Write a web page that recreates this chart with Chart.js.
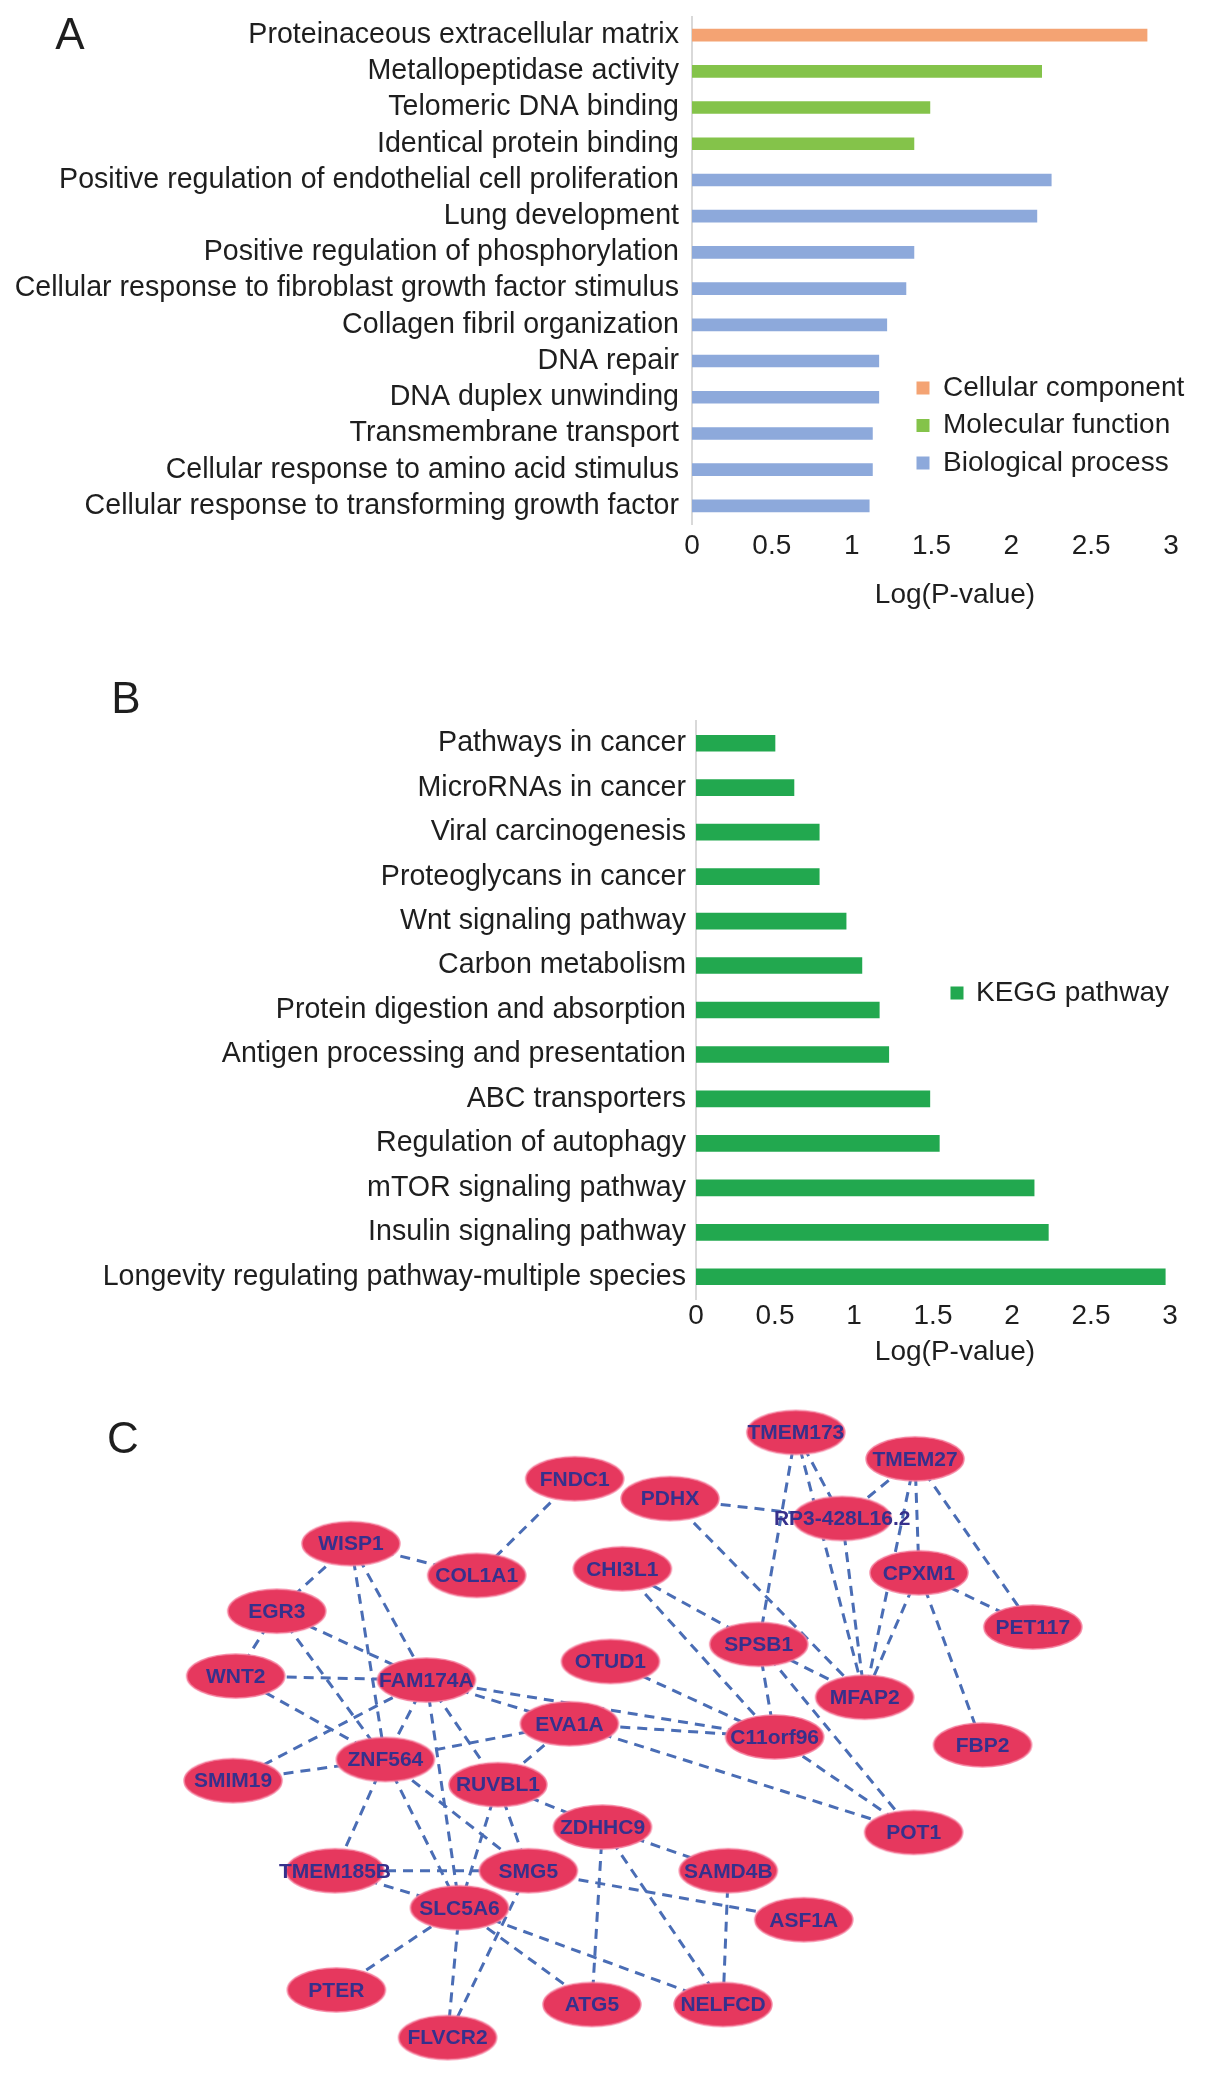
<!DOCTYPE html>
<html><head><meta charset="utf-8">
<script src="https://cdn.jsdelivr.net/npm/chart.js@4.4.1/dist/chart.umd.min.js"></script>
<style>
html,body{margin:0;padding:0;background:#fff;}
body{width:1205px;height:2076px;position:relative;overflow:hidden;}
.wrap{position:absolute;left:0;width:1205px;}
canvas{display:block;}
</style></head><body>
<div class="wrap" style="top:0;height:630px"><canvas id="ca"></canvas></div>
<div class="wrap" style="top:640px;height:745px"><canvas id="cb"></canvas></div>
<div class="wrap" style="top:1390px;height:686px"><canvas id="cc"></canvas></div>
<script>
// ---------------- DATA ----------------
const goTerms = [
  'Proteinaceous extracellular matrix','Metallopeptidase activity','Telomeric DNA binding',
  'Identical protein binding','Positive regulation of endothelial cell proliferation',
  'Lung development','Positive regulation of phosphorylation',
  'Cellular response to fibroblast growth factor stimulus','Collagen fibril organization',
  'DNA repair','DNA duplex unwinding','Transmembrane transport',
  'Cellular response to amino acid stimulus','Cellular response to transforming growth factor'
];
const cellularComponent = [2.85,null,null,null,null,null,null,null,null,null,null,null,null,null];
const molecularFunction = [null,2.19,1.49,1.39,null,null,null,null,null,null,null,null,null,null];
const biologicalProcess = [null,null,null,null,2.25,2.16,1.39,1.34,1.22,1.17,1.17,1.13,1.13,1.11];
const seriesNamesGO = ['Cellular component','Molecular function','Biological process'];

const keggPathways = [
  'Pathways in cancer','MicroRNAs in cancer','Viral carcinogenesis','Proteoglycans in cancer',
  'Wnt signaling pathway','Carbon metabolism','Protein digestion and absorption',
  'Antigen processing and presentation','ABC transporters','Regulation of autophagy',
  'mTOR signaling pathway','Insulin signaling pathway','Longevity regulating pathway-multiple species'
];
const keggValues = [0.50,0.62,0.78,0.78,0.95,1.05,1.16,1.22,1.48,1.54,2.14,2.23,2.97];
const keggSeriesName = 'KEGG pathway';

const xTicks = [0,0.5,1,1.5,2,2.5,3];
const xTickLabels = ['0','0.5','1','1.5','2','2.5','3'];
const axisTitle = 'Log(P-value)';

// network layout (layout units)
const nodeNames = ['TMEM173','TMEM27','FNDC1','PDHX','RP3-428L16.2','WISP1','COL1A1','CHI3L1','CPXM1',
  'PET117','EGR3','SPSB1','OTUD1','WNT2','FAM174A','MFAP2','EVA1A','C11orf96','FBP2','ZNF564',
  'SMIM19','RUVBL1','ZDHHC9','POT1','TMEM185B','SMG5','SAMD4B','SLC5A6','ASF1A','PTER','ATG5',
  'NELFCD','FLVCR2'];
const nodeX = [601,691,434,506,636,265,360,470,694,780,209,573,461,178,322,653,430,585,742,291,
  176,376,455,690,253,399,550,347,607,254,447,546,338];
const nodeY = [32,52,67,82,97,116,140,135,138,179,167,192,205,216,219,232,252,262,268,279,
  295,298,330,334,363,363,363,391,400,453,464,464,489];
const edges = [
  ['WISP1','COL1A1'],['FNDC1','COL1A1'],['WISP1','EGR3'],['WISP1','ZNF564'],['WISP1','FAM174A'],
  ['EGR3','WNT2'],['EGR3','FAM174A'],['EGR3','ZNF564'],['WNT2','FAM174A'],['WNT2','ZNF564'],
  ['SMIM19','ZNF564'],['SMIM19','FAM174A'],['FAM174A','EVA1A'],['FAM174A','C11orf96'],
  ['FAM174A','ZNF564'],['FAM174A','RUVBL1'],['FAM174A','SLC5A6'],['ZNF564','EVA1A'],
  ['ZNF564','TMEM185B'],['ZNF564','SLC5A6'],['ZNF564','SMG5'],['RUVBL1','EVA1A'],
  ['RUVBL1','ZDHHC9'],['RUVBL1','SLC5A6'],['RUVBL1','SMG5'],['SMG5','FLVCR2'],
  ['EVA1A','C11orf96'],['EVA1A','POT1'],['OTUD1','C11orf96'],['CHI3L1','SPSB1'],
  ['CHI3L1','C11orf96'],['PDHX','RP3-428L16.2'],['PDHX','MFAP2'],['TMEM173','RP3-428L16.2'],
  ['TMEM173','SPSB1'],['TMEM27','RP3-428L16.2'],['TMEM27','CPXM1'],['TMEM27','PET117'],
  ['TMEM27','MFAP2'],['RP3-428L16.2','MFAP2'],['TMEM173','MFAP2'],['CPXM1','MFAP2'],
  ['CPXM1','PET117'],['CPXM1','FBP2'],['SPSB1','MFAP2'],['SPSB1','C11orf96'],['SPSB1','POT1'],
  ['C11orf96','POT1'],['ZDHHC9','SAMD4B'],['ZDHHC9','ATG5'],['ZDHHC9','NELFCD'],
  ['SMG5','ASF1A'],['SAMD4B','NELFCD'],['TMEM185B','SMG5'],['TMEM185B','SLC5A6'],
  ['SLC5A6','PTER'],['SLC5A6','FLVCR2'],['SLC5A6','ATG5'],['SLC5A6','NELFCD']
];

// ---------------- STYLE ----------------
const FONT = '"Liberation Sans", Arial, Helvetica, sans-serif';
const TXT = '#1e1e1e';
Chart.defaults.font.family = FONT;
Chart.defaults.color = TXT;
Chart.defaults.animation = false;

const decor = {
  id: 'decor',
  afterDraw(chart, args, opts) {
    const ctx = chart.ctx;
    ctx.save();
    (opts.texts || []).forEach(t => {
      ctx.font = t.font; ctx.fillStyle = t.color || TXT;
      ctx.textAlign = t.align || 'center'; ctx.textBaseline = 'middle';
      ctx.fillText(t.text, t.x, t.y);
    });
    if (opts.legend) {
      const L = opts.legend;
      chart.data.datasets.forEach((ds, i) => {
        const y = L.y + i * L.gap;
        ctx.fillStyle = ds.backgroundColor;
        ctx.fillRect(L.x - L.box / 2, y - L.box / 2, L.box, L.box);
        ctx.fillStyle = TXT; ctx.font = L.font; ctx.textAlign = 'left'; ctx.textBaseline = 'middle';
        ctx.fillText(ds.label, L.textX, y);
      });
    }
    ctx.restore();
  }
};

function barOptions(cfg) {
  return {
    indexAxis: 'y',
    responsive: true, maintainAspectRatio: false, animation: false, events: [],
    layout: { padding: { top: cfg.top, right: cfg.right, left: 0, bottom: 0 } },
    scales: {
      x: {
        type: 'linear', min: 0, max: 3,
        afterBuildTicks: s => { s.ticks = xTicks.map(v => ({ value: v })); },
        afterFit: s => { s.height = cfg.xh; s.paddingLeft = 0; s.paddingRight = 0; },
        ticks: { font: { size: 28 }, color: TXT, padding: cfg.xpad, maxRotation: 0,
          callback: v => xTickLabels[xTicks.indexOf(v)] },
        grid: { display: false, drawTicks: false },
        border: { display: false }
      },
      y: {
        afterFit: s => { s.width = cfg.yw; s.paddingTop = 0; s.paddingBottom = 0; },
        ticks: { font: { size: 28.6 }, color: TXT, padding: cfg.ypad, autoSkip: false },
        grid: { display: false, drawTicks: false },
        border: { display: true, color: '#d9d9d9', width: 2 }
      }
    },
    plugins: {
      legend: { display: false }, tooltip: { enabled: false },
      decor: cfg.decor
    }
  };
}

// ---------------- PANEL A ----------------
new Chart(document.getElementById('ca'), {
  type: 'bar',
  data: {
    labels: goTerms,
    datasets: [
      { label: seriesNamesGO[0], data: cellularComponent, backgroundColor: '#F4A373', grouped: false, barThickness: 12 },
      { label: seriesNamesGO[1], data: molecularFunction, backgroundColor: '#84C34A', grouped: false, barThickness: 12 },
      { label: seriesNamesGO[2], data: biologicalProcess, backgroundColor: '#8DA9DB', grouped: false, barThickness: 12 }
    ]
  },
  options: barOptions({
    top: 17, right: 34, xh: 106, yw: 692, xpad: 5, ypad: 13,
    decor: {
      texts: [
        { text: 'A', x: 70, y: 37, font: '44px ' + FONT },
        { text: axisTitle, x: 955, y: 595, font: '28px ' + FONT }
      ],
      legend: { x: 923, y: 388, gap: 37.5, box: 13, textX: 943, font: '28px ' + FONT }
    }
  }),
  plugins: [decor]
});

// ---------------- PANEL B ----------------
new Chart(document.getElementById('cb'), {
  type: 'bar',
  data: {
    labels: keggPathways,
    datasets: [
      { label: keggSeriesName, data: keggValues, backgroundColor: '#22A84F', barThickness: 16 }
    ]
  },
  options: barOptions({
    top: 81, right: 35, xh: 86, yw: 696, xpad: 0, ypad: 10,
    decor: {
      texts: [
        { text: 'B', x: 126, y: 61, font: '44px ' + FONT },
        { text: axisTitle, x: 955, y: 712, font: '28px ' + FONT }
      ],
      legend: { x: 957, y: 353, gap: 0, box: 13, textX: 976, font: '28px ' + FONT }
    }
  }),
  plugins: [decor]
});

// ---------------- PANEL C ----------------
const ell = document.createElement('canvas');
ell.width = 102; ell.height = 48;
(function () {
  const g = ell.getContext('2d');
  g.beginPath();
  g.ellipse(51, 24, 49, 22, 0, 0, Math.PI * 2);
  g.fillStyle = '#E6385E';
  g.fill();
  g.lineWidth = 1.5;
  g.strokeStyle = 'rgba(245,130,160,0.9)';
  g.stroke();
})();

const nodePoints = nodeNames.map((n, i) => ({ x: nodeX[i], y: nodeY[i] }));
const idx = n => nodeNames.indexOf(n);
const edgeDatasets = edges.map(([a, b]) => ({
  type: 'scatter', showLine: true, order: 1,
  data: [nodePoints[idx(a)], nodePoints[idx(b)]],
  borderColor: '#4A6DB5', borderWidth: 3, borderDash: [10, 7],
  pointRadius: 0, fill: false
}));

const nodeLabels = {
  id: 'nodeLabels',
  afterDatasetsDraw(chart) {
    const meta = chart.getDatasetMeta(0);
    const ctx = chart.ctx;
    ctx.save();
    ctx.font = 'bold 21px ' + FONT;
    ctx.fillStyle = '#36308C';
    ctx.textAlign = 'center'; ctx.textBaseline = 'middle';
    meta.data.forEach((el, i) => ctx.fillText(nodeNames[i], el.x, el.y + 1));
    ctx.restore();
  }
};

new Chart(document.getElementById('cc'), {
  type: 'scatter',
  data: {
    datasets: [
      { label: 'nodes', data: nodePoints, order: 0, pointStyle: ell, pointRadius: 2, showLine: false },
      ...edgeDatasets
    ]
  },
  options: {
    responsive: true, maintainAspectRatio: false, animation: false, events: [],
    layout: { padding: 0, autoPadding: false },
    scales: {
      x: { type: 'linear', min: 0, max: 910, display: false },
      y: { type: 'linear', min: 0, max: 518, reverse: true, display: false }
    },
    plugins: {
      legend: { display: false }, tooltip: { enabled: false },
      decor: { texts: [{ text: 'C', x: 123, y: 51, font: '44px ' + FONT }] }
    }
  },
  plugins: [decor, nodeLabels]
});
</script>
</body></html>
